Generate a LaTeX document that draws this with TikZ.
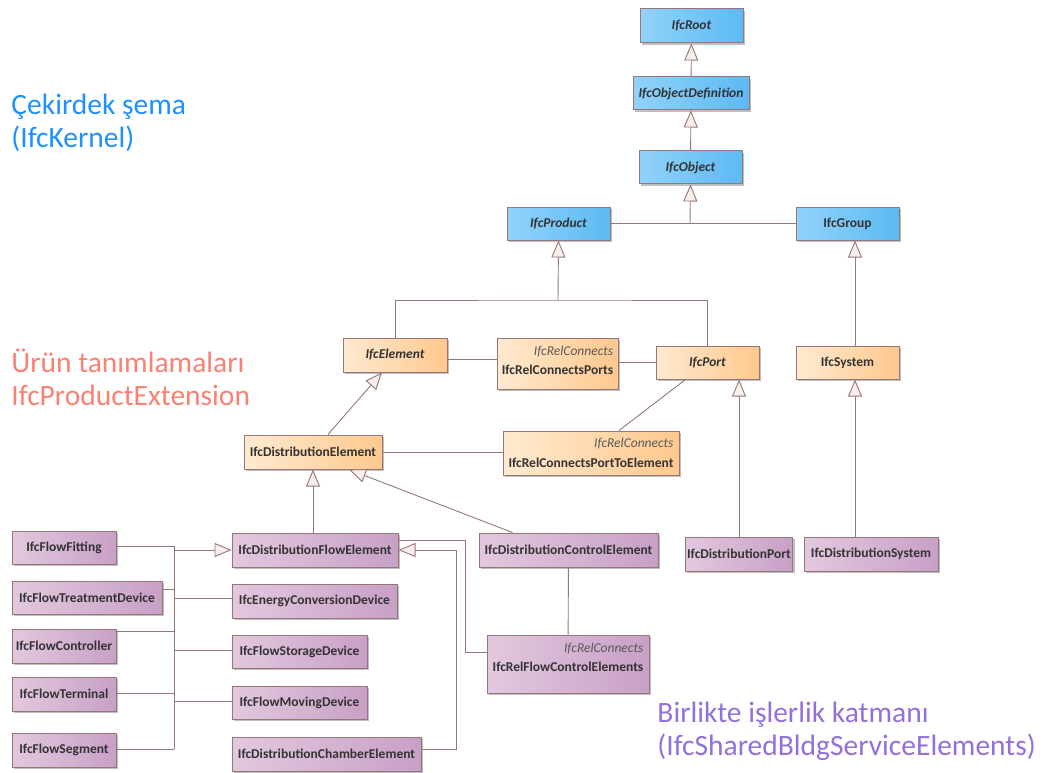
\documentclass[tikz,border=0pt]{standalone}
\usepackage{fontspec}
\setmainfont{Carlito}
\usetikzlibrary{arrows.meta,shadows,calc}
\definecolor{edge}{RGB}{150,118,118}
\definecolor{tipfill}{RGB}{248,238,234}
\definecolor{kernL}{RGB}{146,210,250}
\definecolor{kernR}{RGB}{92,186,244}
\definecolor{extL}{RGB}{255,234,208}
\definecolor{extR}{RGB}{255,200,142}
\definecolor{shrL}{RGB}{226,200,222}
\definecolor{shrR}{RGB}{200,160,198}
\definecolor{kerncol}{RGB}{30,144,255}
\definecolor{extcol}{RGB}{250,128,114}
\definecolor{shrcol}{RGB}{147,112,219}
\tikzset{
  cls/.style={draw=edge, line width=1pt, text=black!80, inner sep=2pt,
    font=\bfseries\fontsize{13.5}{19.5}\selectfont,
    drop shadow={shadow xshift=2pt, shadow yshift=-2pt, opacity=0.25, fill=black}},
  kern/.style={cls, left color=kernL, right color=kernR},
  ext/.style={cls, left color=extL, right color=extR},
  shr/.style={cls, left color=shrL, right color=shrR},
  abst/.style={font=\bfseries\itshape\fontsize{13.5}{19.5}\selectfont},
  rel/.style={align=right},
  lbl/.style={anchor=base west, align=left, inner sep=0pt, font=\fontsize{29.5}{33}\selectfont},
  gen/.style={-{Triangle[length=17pt, width=14pt, fill=tipfill]}},
}
\newcommand{\relname}{{\mdseries\itshape\color{black!65}IfcRelConnects}}
\begin{document}
\begin{tikzpicture}[x=1pt, y=-1pt, line width=0.9pt, draw=edge]
  \useasboundingbox (0,0) rectangle (1050,773);
  % IfcKernel
  \node[kern, abst, minimum width=103pt, minimum height=34pt] (root) at (691.5,26) {IfcRoot};
  \node[kern, abst, minimum width=116pt, minimum height=33pt] (objdef) at (691,93.5) {IfcObjectDefinition};
  \node[kern, abst, minimum width=103pt, minimum height=33pt] (obj) at (690.5,167.5) {IfcObject};
  \node[kern, abst, minimum width=103pt, minimum height=33pt] (product) at (558.5,223.5) {IfcProduct};
  \node[kern, minimum width=103pt, minimum height=33pt] (group) at (847.5,223.5) {IfcGroup};
  % IfcProductExtension
  \node[ext, abst, minimum width=104pt, minimum height=34pt] (element) at (395,355) {IfcElement};
  \node[ext, rel, minimum width=121pt, minimum height=51pt] (relports) at (557.5,363.5) {\relname\\IfcRelConnectsPorts\\[-13.5pt]\mbox{}};
  \node[ext, abst, minimum width=103pt, minimum height=33pt] (port) at (707.5,362.5) {IfcPort};
  \node[ext, minimum width=103pt, minimum height=33pt] (system) at (847.5,362.5) {IfcSystem};
  \node[ext, minimum width=138pt, minimum height=34pt] (distelem) at (313,452) {IfcDistributionElement};
  \node[ext, rel, minimum width=176pt, minimum height=44pt] (relp2e) at (591,453) {\relname\\IfcRelConnectsPortToElement};
  % IfcSharedBldgServiceElements
  \node[shr, minimum width=166pt, minimum height=34pt] (dfe) at (315,550) {IfcDistributionFlowElement};
  \node[shr, minimum width=179pt, minimum height=34pt] (dce) at (568.5,550) {IfcDistributionControlElement};
  \node[shr, minimum width=104pt, minimum height=34pt] (dport) at (739,554) {IfcDistributionPort};
  \node[shr, minimum width=134pt, minimum height=34pt] (dsys) at (871,554) {IfcDistributionSystem};
  \node[shr, rel, minimum width=162pt, minimum height=58pt] (relfce) at (568,664) {\relname\\IfcRelFlowControlElements\\[-6.5pt]\mbox{}};
  \node[shr, minimum width=104pt, minimum height=33pt] (fitting) at (64,547.5) {IfcFlowFitting};
  \node[shr, minimum width=150pt, minimum height=33pt] (treat) at (87,597.5) {IfcFlowTreatmentDevice};
  \node[shr, minimum width=104pt, minimum height=34pt] (controller) at (64,646) {IfcFlowController};
  \node[shr, minimum width=104pt, minimum height=34pt] (terminal) at (64,694) {IfcFlowTerminal};
  \node[shr, minimum width=104pt, minimum height=34pt] (segment) at (64,750) {IfcFlowSegment};
  \node[shr, minimum width=165pt, minimum height=34pt] (energy) at (314.5,601) {IfcEnergyConversionDevice};
  \node[shr, minimum width=135pt, minimum height=33pt] (storage) at (299.5,651.5) {IfcFlowStorageDevice};
  \node[shr, minimum width=135pt, minimum height=33pt] (moving) at (299.5,702.5) {IfcFlowMovingDevice};
  \node[shr, minimum width=189pt, minimum height=34pt] (chamber) at (326.5,754) {IfcDistributionChamberElement};
  % layer labels (base = last line)
  \node[lbl, text=kerncol] (kernlbl) at (11,148) {Çekirdek şema\\(IfcKernel)};
  \node[lbl, text=extcol] (extlbl) at (11,405) {Ürün tanımlamaları\\IfcProductExtension};
  \node[lbl, text=shrcol] (shrlbl) at (657,755) {Birlikte işlerlik katmanı\\(IfcSharedBldgServiceElements)};
  % kernel links
  \draw[gen] (objdef) -- (root);
  \draw[gen] (obj) -- (objdef);
  \coordinate (kj) at (690,224);
  \draw (product.east) -- (group.west);
  \draw[gen] (kj) -- (obj.south);
  % product extension links
  \coordinate (pj) at (558,300);
  \draw (element.north) |- (pj) -| (port.north);
  \draw[gen] (pj) -- (product.south);
  \draw[gen] ([xshift=7.5pt]system.north) -- ([xshift=7.5pt]group.south);
  \draw ([yshift=-4pt]element.east) -- ([yshift=-4pt]element.east -| relports.west);
  \draw (relports.east |- port.west) -- (port.west);
  \draw ([xshift=-22pt]port.south) -- ([xshift=28pt]relp2e.north);
  \draw (distelem.east) -- (distelem.east -| relp2e.west);
  \draw[gen] ([xshift=15pt]distelem.north) -- ([xshift=-13pt]element.south);
  % shared elements links
  \draw[gen] (distelem.south |- dfe.north) -- (distelem.south);
  \draw[gen] ([xshift=-56pt]dce.north) -- ([xshift=36pt]distelem.south);
  \draw (dce) -- (relfce);
  \draw[gen] (dport.north) -- (dport.north |- port.south);
  \draw[gen] ([xshift=-16pt]dsys.north) -- ([xshift=-16pt]dsys.north |- system.south);
  \coordinate (bus) at (174,546);
  \coordinate (busend) at (174,749);
  \draw (bus) -- (busend);
  \foreach \n/\s in {fitting/1.5,treat/8.5,controller/15,terminal/1,segment/1}
    \draw ([yshift=\s pt]\n.east) -- ([yshift=\s pt]\n.east -| bus);
  \foreach \n/\s in {energy/3,storage/1.5,moving/1.5}
    \draw ([yshift=\s pt]\n.west -| bus) -- ([yshift=\s pt]\n.west);
  \draw[gen] (dfe.west -| bus) -- (dfe.west);
  \draw[gen] ([yshift=5pt]chamber.east) -| ($(dfe.east)+(58,0)$) -- (dfe.east);
  \draw ([yshift=12pt]relfce.west) -| ($(dfe.east)+(67,-10)$) -- ($(dfe.east)+(0,-10)$);
\end{tikzpicture}
\end{document}
